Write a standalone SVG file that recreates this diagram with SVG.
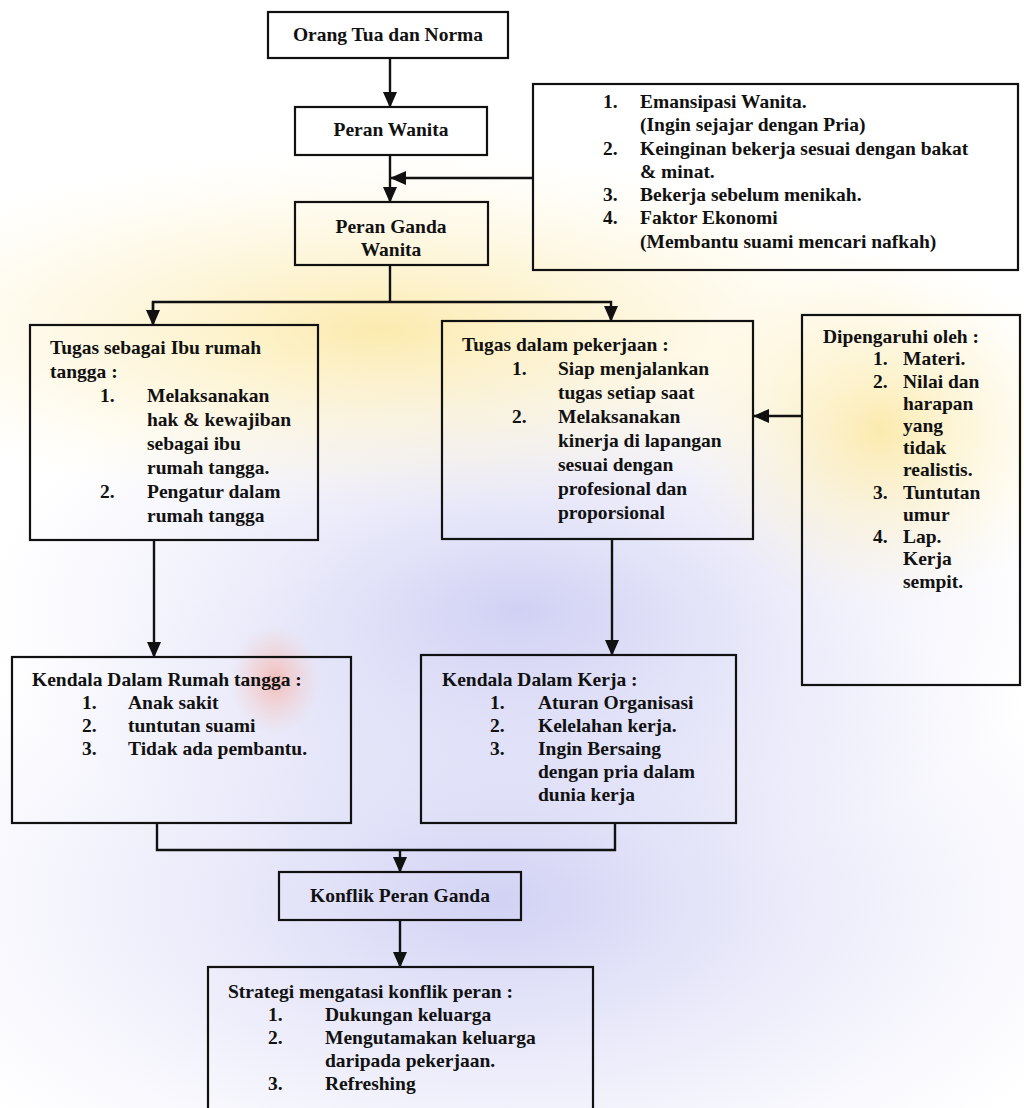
<svg xmlns="http://www.w3.org/2000/svg" width="1024" height="1108" viewBox="0 0 1024 1108">
  <defs>
    <style>
      .box { fill: none; stroke: #111; stroke-width: 2.2; }
      .ln { fill: none; stroke: #111; stroke-width: 2.4; }
      text { font-family: "Liberation Serif", "Times New Roman", serif; font-weight: bold; font-size: 19.5px; fill: #111; }
      .c { text-anchor: middle; }
    </style>
    <marker id="ah" markerUnits="userSpaceOnUse" markerWidth="16" markerHeight="16" viewBox="0 0 16 16" refX="15" refY="8" orient="auto">
      <path d="M0,1 L16,8 L0,15 Z" fill="#111"/>
    </marker>
    <radialGradient id="gy" cx="0.5" cy="0.5" r="0.5">
      <stop offset="0" stop-color="#fbe7a0" stop-opacity="0.85"/>
      <stop offset="1" stop-color="#fdf3cf" stop-opacity="0"/>
    </radialGradient>
    <radialGradient id="gb" cx="0.5" cy="0.5" r="0.5">
      <stop offset="0" stop-color="#c6c6f2" stop-opacity="0.8"/>
      <stop offset="1" stop-color="#dcdcf7" stop-opacity="0"/>
    </radialGradient>
    <radialGradient id="gr" cx="0.5" cy="0.5" r="0.5">
      <stop offset="0" stop-color="#f6b2a8" stop-opacity="0.8"/>
      <stop offset="1" stop-color="#f8c8c0" stop-opacity="0"/>
    </radialGradient>
  </defs>

  <g id="background">
    <rect x="0" y="0" width="1024" height="1108" fill="#ffffff"/>
    <ellipse cx="500" cy="900" rx="640" ry="340" fill="url(#gb)"/>
    <ellipse cx="520" cy="610" rx="540" ry="270" fill="url(#gb)"/>
    <ellipse cx="380" cy="330" rx="560" ry="180" fill="url(#gy)"/>
    <ellipse cx="880" cy="430" rx="200" ry="180" fill="url(#gy)"/>
    <ellipse cx="275" cy="680" rx="45" ry="55" fill="url(#gr)"/>
  </g>

  <g id="connectors">
    <line class="ln" x1="390" y1="58" x2="390" y2="107" marker-end="url(#ah)"/>
    <line class="ln" x1="390" y1="155" x2="390" y2="202" marker-end="url(#ah)"/>
    <line class="ln" x1="533" y1="178" x2="391" y2="178" marker-end="url(#ah)"/>
    <polyline class="ln" points="390,265 390,302"/>
    <polyline class="ln" points="153,325 153,302 611,302 611,321" marker-end="url(#ah)"/>
    <line class="ln" x1="153" y1="302" x2="153" y2="325" marker-end="url(#ah)"/>
    <line class="ln" x1="802" y1="416" x2="754" y2="416" marker-end="url(#ah)"/>
    <line class="ln" x1="154" y1="540" x2="154" y2="657" marker-end="url(#ah)"/>
    <line class="ln" x1="612" y1="539" x2="612" y2="655" marker-end="url(#ah)"/>
    <polyline class="ln" points="157,823 157,850 615,850 615,823"/>
    <line class="ln" x1="400" y1="850" x2="400" y2="872" marker-end="url(#ah)"/>
    <line class="ln" x1="400" y1="920" x2="400" y2="967" marker-end="url(#ah)"/>
  </g>

  <g id="node-orang-tua">
    <rect class="box" x="268" y="12" width="240" height="46"/>
    <text class="c" x="388" y="41">Orang Tua dan Norma</text>
  </g>

  <g id="node-peran-wanita">
    <rect class="box" x="295" y="107" width="192" height="48"/>
    <text class="c" x="391" y="136">Peran Wanita</text>
  </g>

  <g id="node-peran-ganda">
    <rect class="box" x="295" y="202" width="193" height="63"/>
    <text class="c" x="391" y="233">Peran Ganda</text>
    <text class="c" x="391" y="256">Wanita</text>
  </g>

  <g id="node-faktor">
    <rect class="box" x="533" y="84" width="485" height="186"/>
    <text x="603" y="108">1.</text><text x="640" y="108">Emansipasi Wanita.</text>
    <text x="640" y="131">(Ingin sejajar dengan Pria)</text>
    <text x="603" y="155">2.</text><text x="640" y="155">Keinginan bekerja sesuai dengan bakat</text>
    <text x="640" y="178">&amp; minat.</text>
    <text x="603" y="201">3.</text><text x="640" y="201">Bekerja sebelum menikah.</text>
    <text x="603" y="224">4.</text><text x="640" y="224">Faktor Ekonomi</text>
    <text x="640" y="248">(Membantu suami mencari nafkah)</text>
  </g>

  <g id="node-tugas-ibu">
    <rect class="box" x="30" y="325" width="288" height="215"/>
    <text x="50" y="354">Tugas sebagai Ibu rumah</text>
    <text x="50" y="378">tangga :</text>
    <text x="100" y="402">1.</text><text x="147" y="402">Melaksanakan</text>
    <text x="147" y="426">hak &amp; kewajiban</text>
    <text x="147" y="450">sebagai ibu</text>
    <text x="147" y="474">rumah tangga.</text>
    <text x="100" y="498">2.</text><text x="147" y="498">Pengatur dalam</text>
    <text x="147" y="522">rumah tangga</text>
  </g>

  <g id="node-tugas-kerja">
    <rect class="box" x="442" y="321" width="311" height="218"/>
    <text x="462" y="351">Tugas dalam pekerjaan :</text>
    <text x="512" y="375">1.</text><text x="558" y="375">Siap menjalankan</text>
    <text x="558" y="399">tugas setiap saat</text>
    <text x="512" y="423">2.</text><text x="558" y="423">Melaksanakan</text>
    <text x="558" y="447">kinerja di lapangan</text>
    <text x="558" y="471">sesuai dengan</text>
    <text x="558" y="495">profesional dan</text>
    <text x="558" y="519">proporsional</text>
  </g>

  <g id="node-dipengaruhi">
    <rect class="box" x="802" y="315" width="218" height="370"/>
    <text x="823" y="343">Dipengaruhi oleh :</text>
    <text x="873" y="365">1.</text><text x="903" y="365">Materi.</text>
    <text x="873" y="388">2.</text><text x="903" y="388">Nilai dan</text>
    <text x="903" y="410">harapan</text>
    <text x="903" y="432">yang</text>
    <text x="903" y="454">tidak</text>
    <text x="903" y="476">realistis.</text>
    <text x="873" y="499">3.</text><text x="903" y="499">Tuntutan</text>
    <text x="903" y="521">umur</text>
    <text x="873" y="543">4.</text><text x="903" y="543">Lap.</text>
    <text x="903" y="565">Kerja</text>
    <text x="903" y="588">sempit.</text>
  </g>

  <g id="node-kendala-rumah">
    <rect class="box" x="12" y="657" width="339" height="166"/>
    <text x="32" y="686">Kendala Dalam Rumah tangga :</text>
    <text x="82" y="709">1.</text><text x="128" y="709">Anak sakit</text>
    <text x="82" y="732">2.</text><text x="128" y="732">tuntutan suami</text>
    <text x="82" y="755">3.</text><text x="128" y="755">Tidak ada pembantu.</text>
  </g>

  <g id="node-kendala-kerja">
    <rect class="box" x="421" y="655" width="315" height="168"/>
    <text x="442" y="686">Kendala Dalam Kerja :</text>
    <text x="490" y="709">1.</text><text x="538" y="709">Aturan Organisasi</text>
    <text x="490" y="732">2.</text><text x="538" y="732">Kelelahan kerja.</text>
    <text x="490" y="755">3.</text><text x="538" y="755">Ingin Bersaing</text>
    <text x="538" y="778">dengan pria dalam</text>
    <text x="538" y="801">dunia kerja</text>
  </g>

  <g id="node-konflik">
    <rect class="box" x="279" y="872" width="242" height="48"/>
    <text class="c" x="400" y="902">Konflik Peran Ganda</text>
  </g>

  <g id="node-strategi">
    <rect class="box" x="208" y="967" width="385" height="150"/>
    <text x="228" y="998">Strategi mengatasi konflik peran :</text>
    <text x="268" y="1021">1.</text><text x="325" y="1021">Dukungan keluarga</text>
    <text x="268" y="1044">2.</text><text x="325" y="1044">Mengutamakan keluarga</text>
    <text x="325" y="1067">daripada pekerjaan.</text>
    <text x="268" y="1090">3.</text><text x="325" y="1090">Refreshing</text>
  </g>
</svg>
